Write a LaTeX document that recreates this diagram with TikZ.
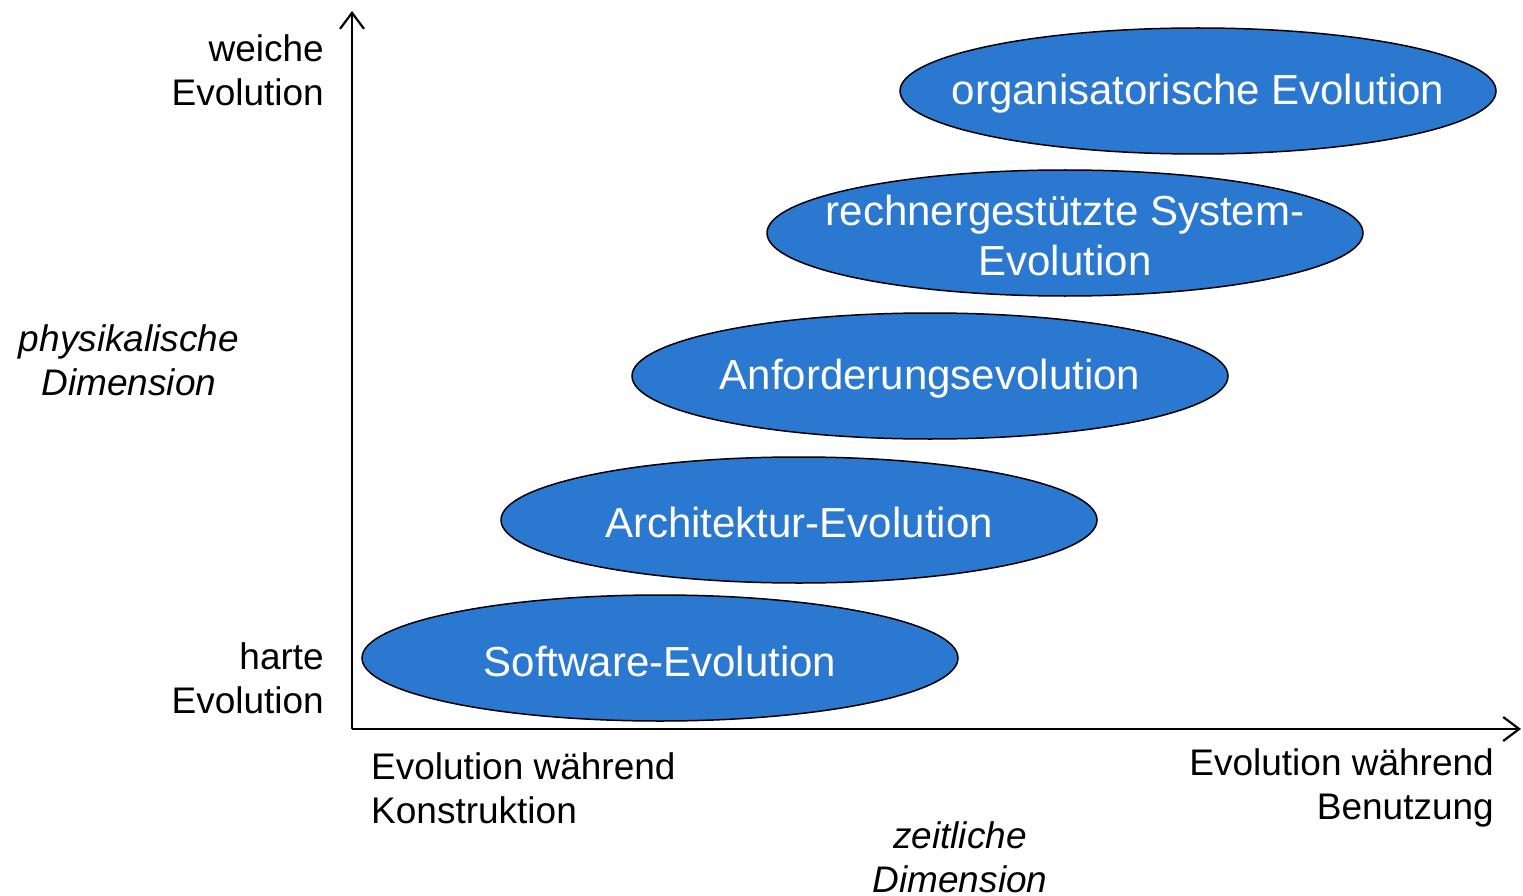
\documentclass[tikz,border=0pt]{standalone}
\usepackage{fontspec}
\setmainfont{Liberation Sans}
\usetikzlibrary{shapes.geometric,arrows.meta}
\definecolor{evoblue}{RGB}{42,120,208}
\tikzset{
  evo/.style={ellipse, draw=black, line width=1.5pt, fill=evoblue, minimum width=596pt, minimum height=126pt, inner sep=0pt},
  evotext/.style={inner sep=0pt, text=white, align=center, font=\fontsize{42}{50}\selectfont},
  lbl/.style={inner sep=0pt, font=\fontsize{37}{44}\selectfont},
  axis/.style={line width=2.5pt, -{Straight Barb[length=16pt,width=24pt,line width=2.2pt]}}
}
\begin{document}
\begin{tikzpicture}[x=1pt,y=-1pt]
\useasboundingbox (0,0) rectangle (1523,896);
\coordinate (O) at (352,729);
\coordinate (ytop) at (352,11);
\coordinate (xend) at (1521,729);
\draw[axis] (O) -- (ytop);
\draw[axis] (O) -- (xend);
\node[evo] (org) at (1198,91) {};
\node[evotext] (orgt) at ([yshift=-3pt]org.center) {organisatorische Evolution};
\node[evo] (rech) at (1065,233) {};
\node[evotext] (recht) at ([yshift=-2pt]rech.center) {rechnergestützte System-\\Evolution};
\node[evo] (anf) at (930,376) {};
\node[evotext] (anft) at ([yshift=-3pt]anf.center) {Anforderungsevolution};
\node[evo] (arch) at (799,520) {};
\node[evotext] (archt) at ([yshift=-2pt]arch.center) {Architektur-Evolution};
\node[evo] (soft) at (660,658) {};
\node[evotext] (softt) at ([yshift=-3pt]soft.center) {Software-Evolution};
\node[lbl, align=right, anchor=east] (weich) at (324,70) {weiche\\Evolution};
\node[lbl, align=right, anchor=east] (hart) at (324,678) {harte\\Evolution};
\node[lbl, align=center, font=\fontsize{37}{44}\selectfont\itshape] (phys) at (129,360) {physikalische\\Dimension};
\node[lbl, align=left, anchor=west] (kons) at (371,788) {Evolution während\\Konstruktion};
\node[lbl, align=right, anchor=east] (ben) at (1494,788) {Evolution während\\Benutzung};
\node[lbl, align=center, font=\fontsize{37}{44}\selectfont\itshape] (zeit) at (960,857) {zeitliche\\Dimension};
\end{tikzpicture}
\end{document}
